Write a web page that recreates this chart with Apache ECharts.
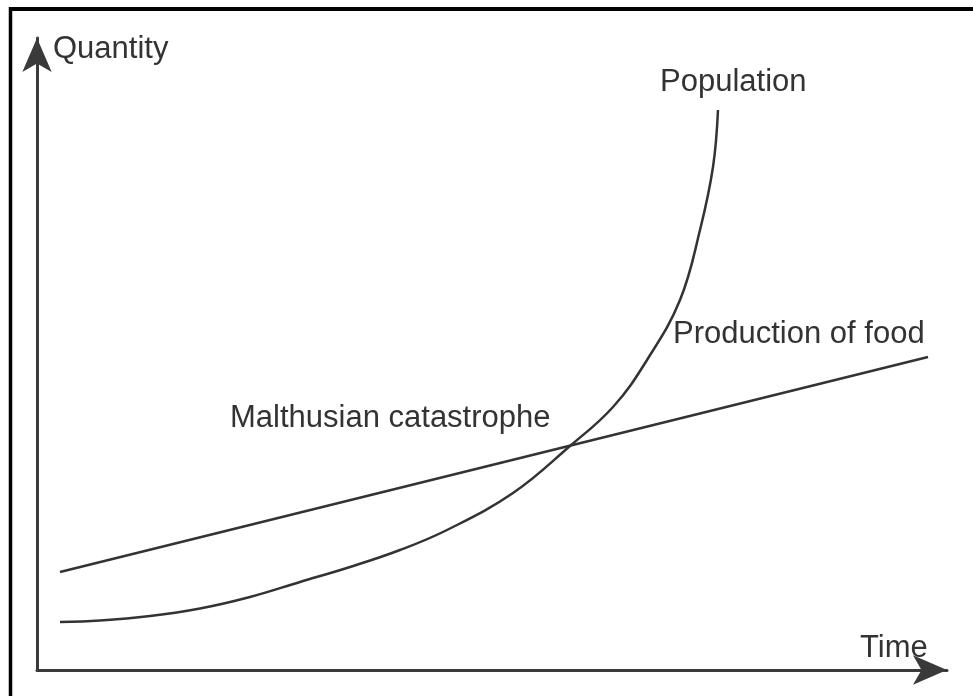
<!DOCTYPE html>
<html>
<head>
<meta charset="utf-8">
<script src="https://cdn.jsdelivr.net/npm/echarts@6/dist/echarts.min.js"></script>
<style>
  html, body { margin: 0; padding: 0; background: #fff; }
  #chart { width: 973px; height: 696px; }
</style>
</head>
<body>
<div id="chart"></div>
<script>
// time / quantity values (arbitrary units)
const populationTime = [23, 63, 113, 163, 213, 263, 313, 363, 410, 476, 533, 576, 610, 643, 663, 676, 681];
const populationQty  = [48, 49.5, 54, 61.5, 73, 88, 103, 120, 140, 177, 224, 263, 310, 370, 440, 503, 560];
const foodTime = [23, 891];
const foodQty  = [98, 313];

const axisNames = ['Time', 'Quantity'];
const seriesNames = ['Population', 'Production of food'];
const catastropheLabel = 'Malthusian catastrophe';

const chart = echarts.init(document.getElementById('chart'), null, { renderer: 'canvas' });

const font = '31px "Liberation Sans", Arial, sans-serif';
const textColor = '#333';
const lineColor = '#333';

function zip(xs, ys) {
    return xs.map((x, i) => [x, ys[i]]);
}

function txt(text, x, y) {
    return {
        type: 'text',
        style: { text: text, x: x, y: y, font: font, fill: textColor, verticalAlign: 'middle' }
    };
}

const axisLine = {
    show: true,
    onZero: false,
    symbol: ['none', 'arrow'],
    symbolSize: [22, 34],
    symbolOffset: [0, 0],
    lineStyle: { color: '#3a3a3a', width: 3 }
};

const option = {
    animation: false,
    backgroundColor: '#fff',
    grid: { left: 37, right: 26, top: 38, bottom: 26 },
    xAxis: {
        type: 'value',
        min: 0,
        max: 910,
        splitLine: { show: false },
        axisTick: { show: false },
        axisLabel: { show: false },
        axisLine: axisLine
    },
    yAxis: {
        type: 'value',
        min: 0,
        max: 632,
        splitLine: { show: false },
        axisTick: { show: false },
        axisLabel: { show: false },
        axisLine: axisLine
    },
    series: [
        {
            name: seriesNames[0],
            type: 'line',
            smooth: 0.4,
            showSymbol: false,
            lineStyle: { color: lineColor, width: 2.5 },
            data: zip(populationTime, populationQty)
        },
        {
            name: seriesNames[1],
            type: 'line',
            showSymbol: false,
            lineStyle: { color: lineColor, width: 2.5 },
            data: zip(foodTime, foodQty)
        }
    ],
    graphic: {
        elements: [
            // frame (top and left edges only, as in the picture)
            { type: 'line', shape: { x1: 9, y1: 9, x2: 973, y2: 9 }, style: { stroke: '#000', lineWidth: 4 } },
            { type: 'line', shape: { x1: 10.5, y1: 7, x2: 10.5, y2: 696 }, style: { stroke: '#000', lineWidth: 3.5 } },
            txt(axisNames[1], 53, 49),
            txt(axisNames[0], 860, 648),
            txt(seriesNames[0], 660, 82),
            txt(seriesNames[1], 673, 334),
            txt(catastropheLabel, 230, 418)
        ]
    }
};

chart.setOption(option);
</script>
</body>
</html>
